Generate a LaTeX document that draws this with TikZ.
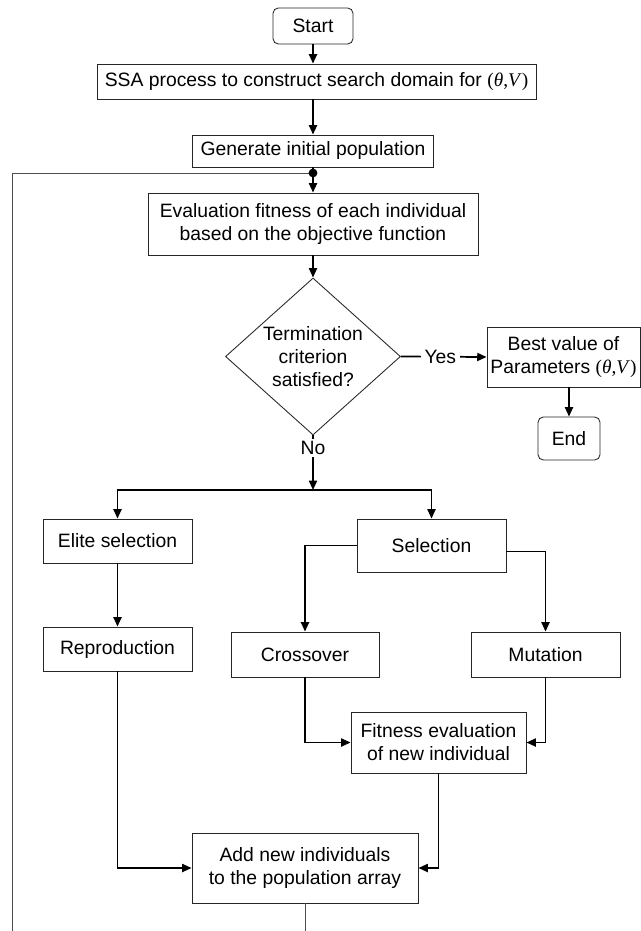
\documentclass[tikz,border=0pt]{standalone}
\usepackage{fontspec}
\setmainfont{Liberation Sans}
\newfontfamily\tnr{Liberation Serif}
\usetikzlibrary{arrows.meta,shapes.geometric}
\begin{document}
\begin{tikzpicture}[x=0.75pt,y=-0.75pt,
  every node/.style={font=\fontsize{14.5pt}{17.25pt}\selectfont, align=center},
  box/.style={draw=black!85, line width=0.65pt, rectangle, inner sep=0pt},
  term/.style={box, rounded corners=4pt},
  conn/.style={line width=1.3pt, -{Triangle[length=7pt,width=6pt]}},
  plain/.style={line width=1.3pt},
  thinline/.style={draw=black!70, line width=0.65pt},
  lbl/.style={fill=white, inner sep=3pt}]
\useasboundingbox (0,0) rectangle (641,931);

\node[term, minimum width=60pt, minimum height=27pt] (start) at (313,26) {Start};
\node[box, minimum width=329.25pt, minimum height=26.25pt] (ssa) at (316.5,81.5) {SSA process to construct search domain for {\tnr(\textit{θ},\textit{V})}};
\node[box, minimum width=180.75pt, minimum height=24pt] (gen) at (313,151) {Generate initial population};
\coordinate (dot) at (313,173);
\node[box, minimum width=247.5pt, minimum height=46.5pt] (eval) at (313,224) {Evaluation fitness of each individual\\based on the objective function};
\node[draw=black!85, line width=0.65pt, diamond, aspect=1.11, inner sep=0pt, minimum width=131.25pt, minimum height=117.75pt] (dia) at (313,356.5) {Termination\\criterion\\satisfied?};
\node[box, minimum width=114.75pt, minimum height=45pt] (best) at (563.5,357) {Best value of\\Parameters {\tnr(\textit{θ},\textit{V})}};
\node[term, minimum width=46.5pt, minimum height=32.25pt] (end) at (569,438.5) {End};
\coordinate (br) at (313,490);
\node[box, minimum width=111.75pt, minimum height=33pt] (elite) at (117.5,541) {Elite selection};
\node[box, minimum width=111.75pt, minimum height=39.75pt] (sel) at (431.5,545.5) {Selection};
\node[box, minimum width=111.75pt, minimum height=33pt] (repro) at (117.5,649) {Reproduction};
\node[box, minimum width=111pt, minimum height=33.75pt] (cross) at (305,654.5) {Crossover};
\node[box, minimum width=111.75pt, minimum height=33.75pt] (mut) at (545.5,654.5) {Mutation};
\node[box, minimum width=131.25pt, minimum height=45.75pt] (fit) at (438.5,742.5) {Fitness evaluation\\of new individual};
\node[box, minimum width=169.5pt, minimum height=52.5pt] (add) at (305,868) {Add new individuals\\to the population array};
\coordinate (botA) at (305,931);
\coordinate (botL) at (12,931);

\draw[conn] (start.south) -- (start.south |- ssa.north);
\draw[conn] (gen.north |- ssa.south) -- (gen.north);
\draw[plain] (gen.south) -- (dot);
\draw[conn] (dot) -- (eval.north);
\draw[thinline] (botL) |- (dot);
\fill (dot) circle (3.3pt);
\draw[thinline] (add.south) -- (botA);
\draw[conn] (eval.south) -- (dia.north);
\draw[conn] (dia.east) -- node[lbl, pos=0.46] {Yes} (best.west);
\draw[conn] (end.north |- best.south) -- (end.north);
\draw[conn] (dia.south) -- node[lbl, pos=0.23, inner sep=1.5pt] {No} (br);
\draw[conn] (br) -| (elite.north);
\draw[conn] (br) -| (sel.north);
\draw[conn] (elite) -- (repro);
\draw[conn] (sel.west) -| (cross.north);
\draw[conn] ([yshift=-4.5pt]sel.east) -| (mut.north);
\draw[conn] (cross.south) |- (fit.west);
\draw[conn] (mut.south) |- (fit.east);
\draw[conn] (fit.south) |- (add.east);
\draw[conn] (repro.south) |- (add.west);
\end{tikzpicture}
\end{document}
